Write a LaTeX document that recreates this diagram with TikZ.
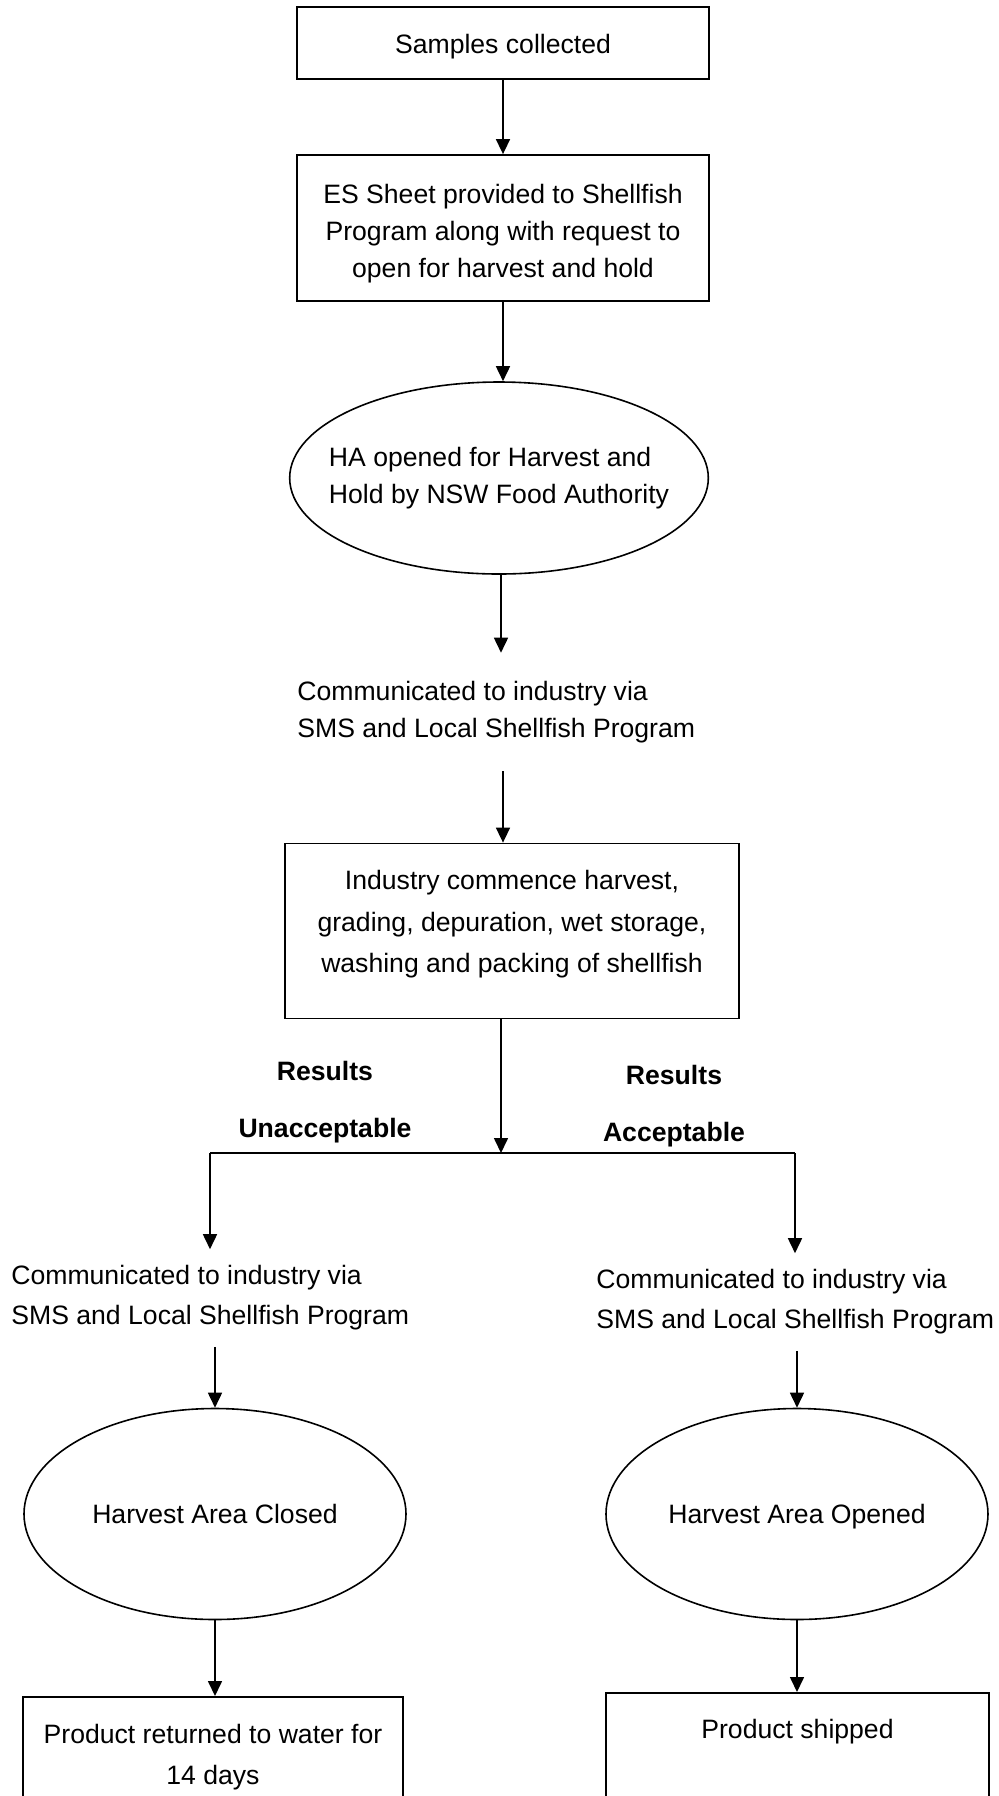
\documentclass[tikz,border=0pt]{standalone}
\usepackage{fontspec}
\setmainfont{Liberation Sans}
\usetikzlibrary{shapes.geometric,arrows.meta}
\newcommand{\flowfont}{\fontsize{13.3}{18.5}\selectfont}
\newcommand{\widefont}{\fontsize{13.3}{20.6}\selectfont}
\newcommand{\upgap}[1]{\rule{0pt}{#1}}
\begin{document}
\begin{tikzpicture}[x=0.5pt,y=-0.5pt,
  box/.style={draw, rectangle, line width=0.9pt, align=center, font=\flowfont},
  oval/.style={draw, ellipse, line width=0.8pt, inner sep=0pt, font=\flowfont},
  note/.style={anchor=west, inner xsep=0pt, inner ysep=12pt, align=left, font=\flowfont},
  res/.style={align=center, font=\flowfont\bfseries},
  arr/.style={line width=0.8pt, -{Triangle[length=7.5pt,width=7pt]}}]
\clip (0,0) rectangle (998,1796);
\useasboundingbox (0,0) rectangle (998,1796);
% main column
\node[box, minimum width=206pt, minimum height=36pt] (smp) at (503,43) {\upgap{13pt}Samples collected};
\node[box, minimum width=206pt, minimum height=73pt] (sheet) at (503,228) {\upgap{15pt}ES Sheet provided to Shellfish\\Program along with request to\\open for harvest and hold};
\node[oval, minimum width=208pt, minimum height=96pt, inner xsep=-11pt, align=left] (haopen) at (499,478) {HA opened for Harvest and\\Hold by NSW Food Authority};
\node[note, inner ysep=14pt] (comm) at (297,712) {Communicated to industry via\\SMS and Local Shellfish Program};
\node[box, font=\widefont, minimum width=227pt, minimum height=87.5pt] (ind) at (512,931) {Industry commence harvest,\\grading, depuration, wet storage,\\washing and packing of shellfish\rule[-9.6pt]{0pt}{0pt}};
\coordinate (split) at (501,1153);
\coordinate (splitL) at (210,1153);
\coordinate (splitR) at (795,1153);
\node[res] (unacc) at (325,1102) {Results\\[10pt]Unacceptable};
\node[res] (acc) at (674,1106) {Results\\[10pt]Acceptable};
% two branches
\node[note, font=\fontsize{13.3}{20}\selectfont, inner ysep=8pt] (commL) at (11,1298) {Communicated to industry via\\SMS and Local Shellfish Program};
\node[note, font=\fontsize{13.3}{20}\selectfont, inner ysep=8pt] (commR) at (596,1302) {Communicated to industry via\\SMS and Local Shellfish Program};
\node[oval, minimum width=191pt, minimum height=105.5pt, text height=9.5pt, text depth=0pt] (closed) at (215,1514) {Harvest Area Closed};
\node[oval, minimum width=191pt, minimum height=105.5pt, text height=9.5pt, text depth=0pt] (opened) at (797,1514) {Harvest Area Opened};
\node[box, font=\widefont, anchor=north, minimum width=190pt, minimum height=60pt] (ret) at (213,1696) {Product returned to water for\\14 days};
\node[box, anchor=north, minimum width=191.5pt, minimum height=60pt] (ship) at (797.5,1692) {Product shipped\rule[-24pt]{0pt}{0pt}};
% connectors
\draw[arr] (smp) -- (sheet);
\draw[arr] (sheet.south) -- (sheet.south |- haopen.north);
\draw[arr] (haopen.south -| split) -- (comm.north -| split);
\draw[arr] (comm.south -| sheet) -- (ind.north -| sheet);
\draw[arr] (ind.south -| split) -- (split);
\draw[line width=0.8pt] (splitL) -- (splitR);
\draw[arr] (splitL) -- (splitL |- commL.north);
\draw[arr] (splitR) -- (splitR |- commR.north);
\draw[arr] (commL.south -| closed) -- (closed.north);
\draw[arr] (commR.south -| opened) -- (opened.north);
\draw[arr] (closed.south) -- (ret.north -| closed);
\draw[arr] (opened.south) -- (ship.north -| opened);
\end{tikzpicture}
\end{document}
